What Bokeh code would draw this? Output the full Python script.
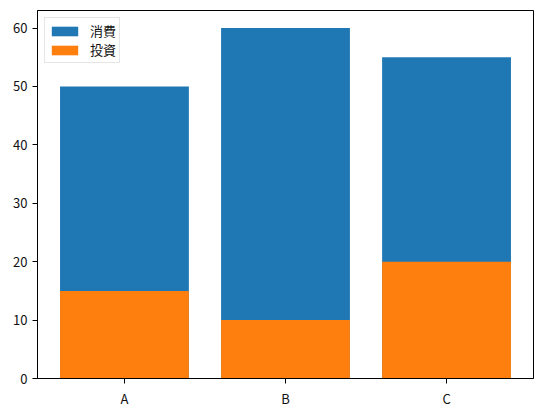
from bokeh.plotting import figure
from bokeh.models import Range1d, FixedTicker, Legend, LegendItem
from bokeh.embed import file_html
from bokeh.resources import INLINE

categories = ["A", "B", "C"]
consumption = [50, 60, 55]
investment = [15, 10, 20]

series_labels = ["消費", "投資"]
colors = ["#1f77b4", "#ff7f0e"]

xs = list(range(len(categories)))
FONT = "Noto Sans CJK JP"

p = figure(width=541, height=410, output_backend="svg", toolbar_location=None,
           x_range=Range1d(-0.54, 2.54), y_range=Range1d(0, 63),
           min_border_left=37, min_border_right=8, min_border_top=10, min_border_bottom=31)

r1 = p.vbar(x=xs, top=consumption, width=0.8, bottom=0, fill_color=colors[0], line_color=None)
r2 = p.vbar(x=xs, top=investment, width=0.8, bottom=0, fill_color=colors[1], line_color=None)

p.xgrid.visible = False
p.ygrid.visible = False
p.outline_line_color = "black"
p.outline_line_width = 1
p.outline_line_alpha = 1

p.xaxis.ticker = FixedTicker(ticks=xs)
p.xaxis.major_label_overrides = {i: c for i, c in enumerate(categories)}
p.yaxis.ticker = FixedTicker(ticks=[0, 10, 20, 30, 40, 50, 60])

for ax in (p.xaxis[0], p.yaxis[0]):
    ax.axis_line_color = "black"
    ax.axis_line_width = 1
    ax.major_tick_line_color = "black"
    ax.major_tick_out = 5
    ax.major_tick_in = 0
    ax.minor_tick_line_color = None
    ax.major_label_text_font = FONT
    ax.major_label_text_font_size = "13px"
    ax.major_label_text_color = "#111111"
    ax.major_label_standoff = 5

legend = Legend(items=[LegendItem(label=series_labels[0], renderers=[r1]),
                       LegendItem(label=series_labels[1], renderers=[r2])],
                location="top_left")
legend.margin = 7
legend.padding = 3
legend.spacing = 0
legend.glyph_width = 33
legend.glyph_height = 12
legend.label_standoff = 9
legend.label_text_font = FONT
legend.label_text_font_size = "13px"
legend.label_text_color = "#111111"
legend.border_line_color = "#cccccc"
legend.border_line_width = 1
legend.background_fill_alpha = 0.8
p.add_layout(legend, "center")

open("out.html", "w").write(file_html(p, INLINE))
